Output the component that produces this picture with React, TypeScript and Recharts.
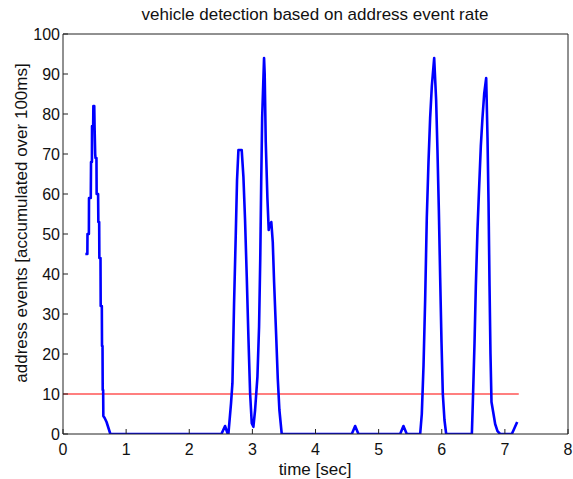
import React from "react";
import { LineChart, Line, XAxis, YAxis } from "recharts";

const timeSec: number[] = [
  0.354, 0.386, 0.388, 0.41, 0.412, 0.44, 0.444, 0.458, 0.46, 0.478, 0.481, 0.495, 0.5, 0.51, 0.515, 0.53, 0.533, 0.556, 0.56, 0.573, 0.576, 0.594, 0.597, 0.615, 0.618, 0.626, 0.629, 0.636, 0.639, 0.66, 0.69, 0.72, 0.75,
  2.51, 2.567, 2.61, 2.62, 2.662, 2.684, 2.71, 2.736, 2.757, 2.779, 2.831, 2.858, 2.884, 2.911, 2.937, 2.964, 2.99, 3.016, 3.043, 3.08, 3.106, 3.125, 3.14, 3.155, 3.185, 3.195, 3.212, 3.238, 3.259, 3.27, 3.3, 3.323, 3.344, 3.376, 3.402, 3.428, 3.465,
  4.575, 4.628, 4.68, 5.341, 5.393, 5.446,
  5.658, 5.684, 5.711, 5.737, 5.763, 5.79, 5.816, 5.843, 5.88, 5.911, 5.932, 5.954, 5.975, 5.996, 6.017, 6.043, 6.07,
  6.477, 6.492, 6.519, 6.54, 6.566, 6.593, 6.619, 6.645, 6.672, 6.704, 6.725, 6.741, 6.757, 6.772, 6.788, 6.82, 6.846, 6.883, 6.925, 7.11, 7.195,
];

const addressEvents: number[] = [
  45, 45, 50, 50, 59, 59, 68, 68, 77, 77, 82, 82, 77, 70, 69, 69, 60, 60, 53, 53, 44, 44, 32, 32, 22, 22, 11, 11, 4.5, 4, 3, 1.5, 0,
  0, 2, 0, 0, 7.7, 12.7, 32.7, 49.3, 63.5, 71, 71, 64.3, 53.5, 39.3, 24.3, 10.2, 2.7, 1.8, 6, 14.3, 26.8, 44, 63, 79, 94, 90, 73, 59, 51, 52, 53, 48, 38, 25, 14, 6, 0,
  0, 2, 0, 0, 2, 0,
  0, 5, 17, 33.5, 54, 68, 79, 87, 94, 83.5, 71, 56, 39, 23, 10, 3.5, 0,
  0, 7.7, 22.7, 37, 51, 62, 72, 79, 85, 89, 74, 58, 37, 20, 8, 5, 2.5, 0.7, 0, 0, 3,
];

const thresholdTime: number[] = [0, 7.22];
const thresholdValue: number[] = [10, 10];

const xTicks: number[] = [0, 1, 2, 3, 4, 5, 6, 7, 8];
const yTicks: number[] = [0, 10, 20, 30, 40, 50, 60, 70, 80, 90, 100];

const titleText = "vehicle detection based on address event rate";
const xLabelText = "time [sec]";
const yLabelText = "address events [accumulated over 100ms]";

const eventData = timeSec.map((t, i) => ({ t, v: addressEvents[i] }));
const thresholdData = thresholdTime.map((t, i) => ({ t, v: thresholdValue[i] }));

const FONT = "'Liberation Sans', Arial, Helvetica, sans-serif";
const AXIS = "#222";

export default function App() {
  return (
    <div
      style={{
        position: "absolute",
        left: 0,
        top: 0,
        width: 573,
        height: 479,
        background: "#fff",
        fontFamily: FONT,
        color: "#111",
      }}
    >
      <LineChart
        width={573}
        height={479}
        margin={{ top: 33, right: 4, bottom: 0, left: 13 }}
        style={{ fontFamily: FONT }}
      >
        <XAxis
          xAxisId="x"
          dataKey="t"
          type="number"
          domain={[0, 8]}
          ticks={xTicks}
          allowDataOverflow
          orientation="bottom"
          height={45}
          tickSize={-5}
          tickMargin={15}
          stroke={AXIS}
          tick={{ fill: "#111", fontSize: 16 }}
        />
        <XAxis
          xAxisId="top"
          dataKey="t"
          type="number"
          domain={[0, 8]}
          ticks={xTicks}
          allowDataOverflow
          orientation="top"
          height={1}
          tickSize={-5}
          tick={false}
          stroke={AXIS}
        />
        <YAxis
          yAxisId="y"
          type="number"
          domain={[0, 100]}
          ticks={yTicks}
          allowDataOverflow
          orientation="left"
          width={50}
          tickSize={-5}
          tickMargin={8}
          stroke={AXIS}
          tick={{ fill: "#111", fontSize: 16 }}
        />
        <YAxis
          yAxisId="right"
          type="number"
          domain={[0, 100]}
          ticks={yTicks}
          allowDataOverflow
          orientation="right"
          width={1}
          tickSize={-5}
          tick={false}
          stroke={AXIS}
        />
        <Line
          xAxisId="top"
          yAxisId="right"
          data={thresholdData}
          dataKey="v"
          type="linear"
          stroke="#ff0000"
          strokeWidth={1.2}
          dot={false}
          isAnimationActive={false}
        />
        <Line
          xAxisId="x"
          yAxisId="y"
          data={eventData}
          dataKey="v"
          type="linear"
          stroke="#0000ff"
          strokeWidth={2.6}
          strokeLinejoin="round"
          dot={false}
          isAnimationActive={false}
        />
      </LineChart>
      <div
        style={{
          position: "absolute",
          left: 315,
          top: 15,
          transform: "translate(-50%, -50%)",
          whiteSpace: "nowrap",
          fontSize: 17,
        }}
      >
        {titleText}
      </div>
      <div
        style={{
          position: "absolute",
          left: 315,
          top: 470,
          transform: "translate(-50%, -50%)",
          whiteSpace: "nowrap",
          fontSize: 17,
        }}
      >
        {xLabelText}
      </div>
      <div
        style={{
          position: "absolute",
          left: 22,
          top: 223,
          transform: "translate(-50%, -50%) rotate(-90deg)",
          whiteSpace: "nowrap",
          fontSize: 17,
        }}
      >
        {yLabelText}
      </div>
    </div>
  );
}
